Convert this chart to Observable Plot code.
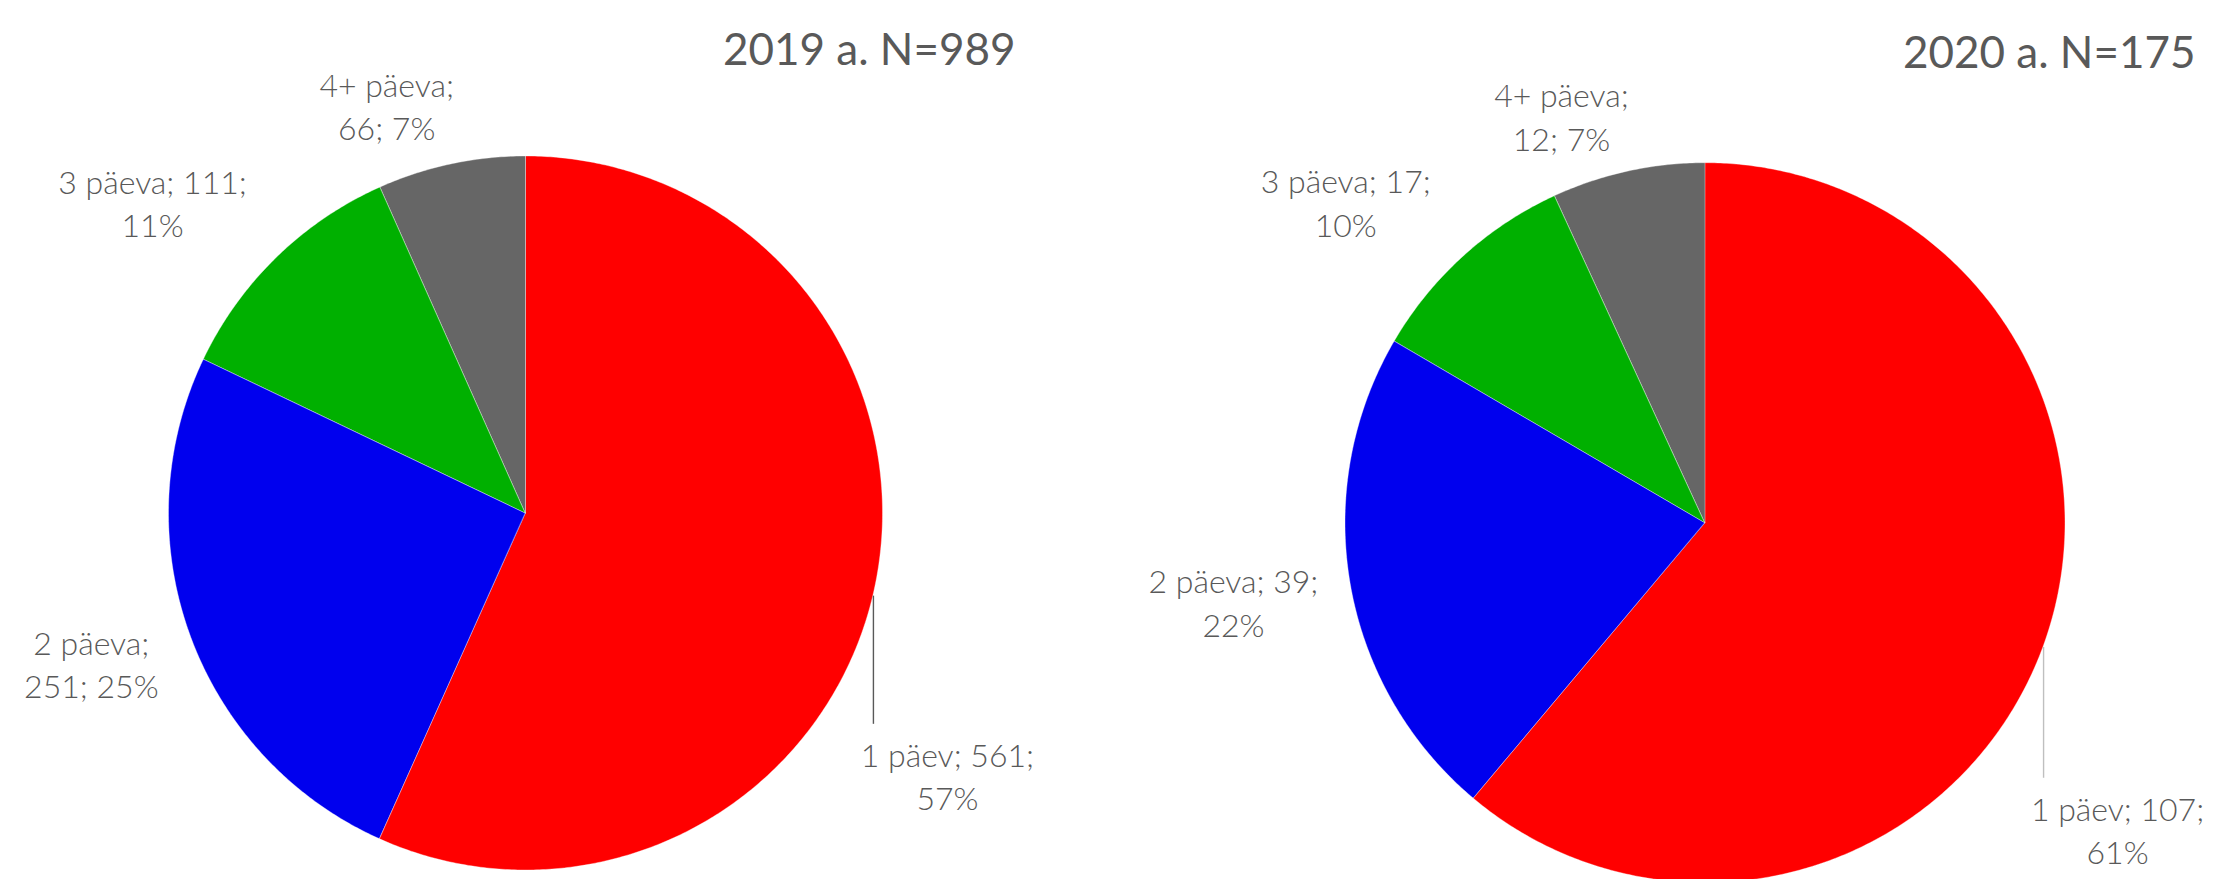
<!DOCTYPE html>
<html>
<head>
<meta charset="utf-8">
<script src="https://cdn.jsdelivr.net/npm/d3@7"></script>
<script src="https://cdn.jsdelivr.net/npm/@observablehq/plot@0.6"></script>
<style>
  html, body { margin: 0; padding: 0; background: #fff; }
  #wrap { display: flex; width: 2239px; height: 879px; overflow: hidden; }
  #wrap svg { max-width: none !important; flex: none; }
</style>
</head>
<body>
<div id="wrap"></div>
<script>
// ---- data ----
const categories = ["1 päev", "2 päeva", "3 päeva", "4+ päeva"];
const sliceColors = ["#ff0000", "#0000ee", "#00b000", "#666666"];
const values2019 = [561, 251, 111, 66];
const values2020 = [107, 39, 17, 12];
const titles = ["2019 a. N=989", "2020 a. N=175"];

// ---- layout (pixels / label placement, kept apart from data) ----
const panels = [
  {values: values2019, title: titles[0], width: 1120, cx: 525.5, cy: 513, r: 357, titleRight: 1015, titleBase: 47,
   labelRadius: [1.389, 1.287, 1.363, 1.210], labelShift: [19.7, 1.2, -5.9, -6.8], breakAfter: [2, 1, 2, 1],
   leaderColor: "#595959"},
  {values: values2020, title: titles[1], width: 1119, cx: 585, cy: 522.7, r: 360, titleRight: 1075, titleBase: 50,
   labelRadius: [1.425, 1.329, 1.341, 1.202], labelShift: [16.5, 0.4, -6.0, -7.1], breakAfter: [2, 2, 2, 1],
   leaderColor: "#bfbfbf"}
];

const rad = d => d * Math.PI / 180;

function buildPanel(p) {
  const total = d3.sum(p.values);
  let acc = 0;
  const slices = p.values.map((v, i) => {
    const start = acc / total * 360;
    acc += v;
    const end = acc / total * 360;
    return {key: categories[i], value: v, pct: Math.round(v / total * 100), start, end};
  });
  // arc outline points (wedge areas between the centre and the arc)
  const arcPts = [];
  for (const s of slices) {
    const n = Math.max(2, Math.ceil((s.end - s.start) / 0.5));
    for (let k = 0; k <= n; k++) {
      const a = rad(s.start + (s.end - s.start) * k / n);
      arcPts.push({key: s.key, cx: 0, cy: 0, x: Math.sin(a), y: -Math.cos(a)});
    }
  }
  // labels
  const labels = slices.map((s, i) => {
    const a = rad((s.start + s.end) / 2 + p.labelShift[i]);
    const parts = [s.key, String(s.value), s.pct + "%"];
    const b = p.breakAfter[i];
    const text = parts.slice(0, b).join("; ") + ";\n" + parts.slice(b).join("; ");
    return {x: p.labelRadius[i] * Math.sin(a), y: -p.labelRadius[i] * Math.cos(a), text};
  });
  // leader line for the first slice label
  const L = labels[0];
  const lx = L.x - 74 / p.r;
  const leader = [{x1: lx, y1: Math.sqrt(1 - lx * lx), x2: lx, y2: L.y - 51 / p.r}];

  return Plot.plot({
    width: p.width,
    height: 879,
    marginTop: 0,
    marginRight: p.width - p.titleRight,
    marginLeft: 0,
    marginBottom: 0,
    style: {fontFamily: "Lato, 'Open Sans', sans-serif", background: "#fff", overflow: "hidden"},
    x: {domain: [-1, 1], range: [p.cx - p.r, p.cx + p.r], axis: null},
    y: {domain: [-1, 1], range: [p.cy - p.r, p.cy + p.r], axis: null},
    color: {domain: categories, range: sliceColors},
    marks: [
      Plot.area(arcPts, {x1: "cx", y1: "cy", x2: "x", y2: "y", z: "key", fill: "key",
                         stroke: "#ffffff", strokeWidth: 0.6, strokeOpacity: 0.6}),
      Plot.link(leader, {x1: "x1", y1: "y1", x2: "x2", y2: "y2", stroke: p.leaderColor, strokeWidth: 1.4}),
      Plot.text(labels, {x: "x", y: "y", text: "text", fontSize: 32, fontWeight: 300, lineHeight: 1.36, fill: "#595959"}),
      Plot.text([p.title], {frameAnchor: "top-right", textAnchor: "end", text: d => d,
                            fontSize: 44, dy: p.titleBase - 0.32 * 44, fill: "#595959"})
    ]
  });
}

const wrap = document.getElementById("wrap");
for (const p of panels) wrap.appendChild(buildPanel(p));
</script>
</body>
</html>
